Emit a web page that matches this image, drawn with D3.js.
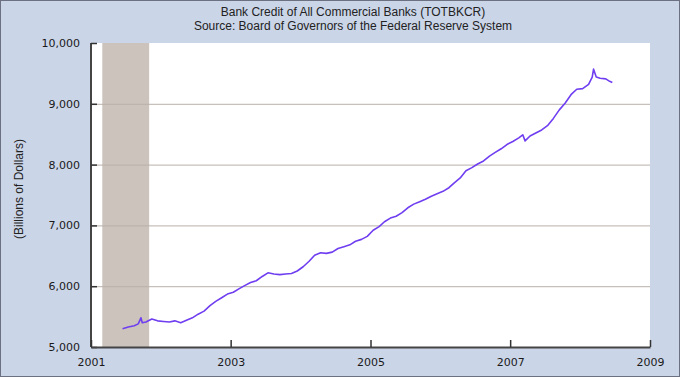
<!DOCTYPE html>
<html>
<head>
<meta charset="utf-8">
<script src="https://cdn.jsdelivr.net/npm/d3@7"></script>
<style>
  html, body { margin: 0; padding: 0; background: #cbd5e8; }
  svg { display: block; }
</style>
</head>
<body>
<svg id="chart" width="680" height="377"></svg>
<script>
// title lines
const titleLines = [
  "Bank Credit of All Commercial Banks (TOTBKCR)",
  "Source: Board of Governors of the Federal Reserve System"
];
const yLabel = "(Billions of Dollars)";

// recession band (NBER, 2001)
const recession = ["2001-03-01", "2001-11-01"];

// tick values
const yTicks = [5000, 6000, 7000, 8000, 9000, 10000];
const xTickYears = [2001, 2003, 2005, 2007, 2009];

// series (billions of dollars)
const dates = [
  "2001-06-15", "2001-07-15", "2001-08-15", "2001-09-05", "2001-09-19", "2001-09-26",
  "2001-10-15", "2001-11-15", "2001-12-15",
  "2002-01-15", "2002-02-15", "2002-03-15", "2002-04-15", "2002-05-15", "2002-06-15",
  "2002-07-15", "2002-08-15", "2002-09-15", "2002-10-15", "2002-11-15", "2002-12-15",
  "2003-01-15", "2003-02-15", "2003-03-15", "2003-04-15", "2003-05-15", "2003-06-15",
  "2003-07-15", "2003-08-15", "2003-09-15", "2003-10-15", "2003-11-15", "2003-12-15",
  "2004-01-15", "2004-02-15", "2004-03-15", "2004-04-15", "2004-05-15", "2004-06-15",
  "2004-07-15", "2004-08-15", "2004-09-15", "2004-10-15", "2004-11-15", "2004-12-15",
  "2005-01-15", "2005-02-15", "2005-03-15", "2005-04-15", "2005-05-15", "2005-06-15",
  "2005-07-15", "2005-08-15", "2005-09-15", "2005-10-15", "2005-11-15", "2005-12-15",
  "2006-01-15", "2006-02-15", "2006-03-15", "2006-04-15", "2006-05-15", "2006-06-15",
  "2006-07-15", "2006-08-15", "2006-09-15", "2006-10-15", "2006-11-15", "2006-12-15",
  "2007-01-15", "2007-02-15", "2007-03-08", "2007-03-20", "2007-04-15", "2007-05-15",
  "2007-06-15", "2007-07-15", "2007-08-15", "2007-09-15", "2007-10-15", "2007-11-15",
  "2007-12-15", "2008-01-15", "2008-02-15", "2008-03-05", "2008-03-12", "2008-03-26",
  "2008-04-15", "2008-05-15", "2008-06-04", "2008-06-18"
];
const values = [
  5300, 5330, 5350, 5380, 5480, 5400,
  5410, 5460, 5430,
  5420, 5410, 5430, 5400, 5440, 5480,
  5540, 5590, 5680, 5750, 5810, 5870,
  5900, 5960, 6010, 6060, 6090, 6160,
  6220, 6200, 6190, 6200, 6210, 6250,
  6320, 6410, 6510, 6550, 6540, 6560,
  6620, 6650, 6680, 6740, 6770, 6820,
  6920, 6980, 7060, 7120, 7150, 7210,
  7290, 7350, 7390, 7430, 7480, 7520,
  7560, 7620, 7700, 7780, 7900, 7950,
  8010, 8060, 8140, 8200, 8260, 8330,
  8380, 8440, 8490, 8390, 8470, 8520,
  8570, 8640, 8760, 8900, 9010, 9150,
  9240, 9250, 9320, 9440, 9570, 9440,
  9420, 9410, 9370, 9350
];

const parse = d3.timeParse("%Y-%m-%d");
const data = dates.map((d, i) => ({ date: parse(d), value: values[i] }));

const svg = d3.select("#chart");
const width = +svg.attr("width");
const height = +svg.attr("height");

const margin = { top: 43, right: 30, bottom: 30, left: 91 };
const font = "Tahoma, 'DejaVu Sans', Verdana, sans-serif";

// background + thin frame
svg.append("rect")
  .attr("x", 0.5).attr("y", 0.5)
  .attr("width", width - 1).attr("height", height - 1)
  .attr("fill", "#cbd5e8")
  .attr("stroke", "#6b7180");

const x = d3.scaleTime()
  .domain([new Date(2001, 0, 1), new Date(2009, 0, 1)])
  .range([margin.left, width - margin.right]);

const y = d3.scaleLinear()
  .domain([5000, 10000])
  .range([height - margin.bottom, margin.top]);

// plot area
svg.append("rect")
  .attr("x", x.range()[0]).attr("y", y(10000))
  .attr("width", x.range()[1] - x.range()[0])
  .attr("height", y(5000) - y(10000))
  .attr("fill", "#ffffff");

// recession shading
svg.append("rect")
  .attr("x", x(parse(recession[0])))
  .attr("y", y(10000))
  .attr("width", x(parse(recession[1])) - x(parse(recession[0])))
  .attr("height", y(5000) - y(10000))
  .attr("fill", "#cbc3bc");

// gridlines
svg.append("g")
  .selectAll("line")
  .data(yTicks.filter(v => v > 5000 && v < 10000))
  .enter()
  .append("line")
  .attr("x1", x.range()[0]).attr("x2", x.range()[1])
  .attr("y1", d => y(d) + 0.5).attr("y2", d => y(d) + 0.5)
  .attr("stroke", "#b9b1aa")
  .attr("stroke-width", 1);

// line
const line = d3.line()
  .x(d => x(d.date))
  .y(d => y(d.value));

svg.append("path")
  .datum(data)
  .attr("d", line)
  .attr("fill", "none")
  .attr("stroke", "#6f3ef0")
  .attr("stroke-width", 1.6)
  .attr("stroke-linejoin", "round");

// axes
const fmt = d3.format(",");
const yAxis = d3.axisLeft(y)
  .tickValues(yTicks)
  .tickFormat(fmt)
  .tickSizeInner(-6)
  .tickSizeOuter(0)
  .tickPadding(11);

const xAxis = d3.axisBottom(x)
  .tickValues(xTickYears.map(yr => new Date(yr, 0, 1)))
  .tickFormat(d3.timeFormat("%Y"))
  .tickSizeInner(-7)
  .tickSizeOuter(0)
  .tickPadding(11);

const gy = svg.append("g")
  .attr("transform", `translate(${margin.left},0)`)
  .call(yAxis);

const gx = svg.append("g")
  .attr("transform", `translate(0,${height - margin.bottom})`)
  .call(xAxis);

[gx, gy].forEach(g => {
  g.select(".domain").attr("stroke", "#444").attr("stroke-width", 2);
  g.selectAll(".tick line").attr("stroke", "#333").attr("stroke-width", 1.5);
  g.selectAll("text")
    .attr("fill", "#1a1a1a")
    .style("font-family", "'DejaVu Sans', Verdana, sans-serif")
    .style("font-size", "11px");
});
gy.select(".domain").attr("d", `M0,${y(5000)}V${y(10000)}`);

// titles
svg.append("g")
  .selectAll("text")
  .data(titleLines)
  .enter()
  .append("text")
  .attr("x", 353)
  .attr("y", (d, i) => 16 + i * 14)
  .attr("text-anchor", "middle")
  .attr("fill", "#222")
  .style("font-family", "'Liberation Sans', Arial, sans-serif")
  .style("font-size", "12px")
  .text(d => d);

// y label
svg.append("text")
  .attr("transform", "translate(23,189) rotate(-90)")
  .attr("text-anchor", "middle")
  .attr("fill", "#222")
  .style("font-family", "'Liberation Sans', Arial, sans-serif")
  .style("font-size", "12px")
  .text(yLabel);
</script>
</body>
</html>
